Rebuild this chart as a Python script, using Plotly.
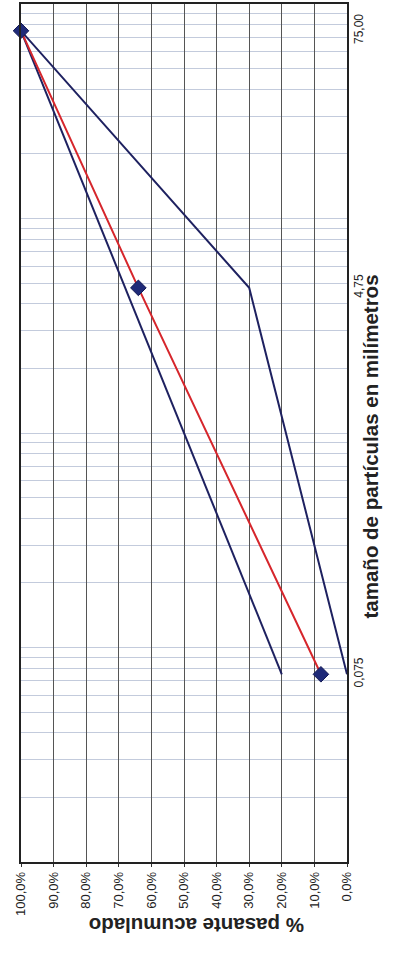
import plotly.graph_objects as go

# Data (particle size in mm, % passing)
sizes_sample = [75.0, 4.75, 0.075]
passing_sample = [100.0, 64.0, 8.0]

sizes_upper = [75.0, 4.75, 0.075]
passing_upper = [100.0, 30.0, 0.0]

sizes_lower = [75.0, 0.075]
passing_lower = [100.0, 20.0]

pct_ticks = [100, 90, 80, 70, 60, 50, 40, 30, 20, 10, 0]
pct_labels = ["100,0%", "90,0%", "80,0%", "70,0%", "60,0%", "50,0%",
              "40,0%", "30,0%", "20,0%", "10,0%", "0,0%"]
size_ticks = [0.075, 4.75, 75.0]
size_labels = ["0,075", "4,75", "75,00"]

grid_vals = [m * 10.0 ** e for e in range(-2, 2) for m in range(1, 10)] + [100.0]

navy = "#1e2160"
fig = go.Figure()
fig.add_trace(go.Scatter(x=passing_upper, y=sizes_upper, mode="lines",
                         line=dict(color=navy, width=2), cliponaxis=False,
                         showlegend=False))
fig.add_trace(go.Scatter(x=passing_lower, y=sizes_lower, mode="lines",
                         line=dict(color=navy, width=2), cliponaxis=False,
                         showlegend=False))
fig.add_trace(go.Scatter(x=passing_sample, y=sizes_sample, mode="lines+markers",
                         line=dict(color="#d6262c", width=2),
                         marker=dict(symbol="diamond", size=12, color="#1f2a78",
                                     line=dict(color="#141a55", width=1)),
                         cliponaxis=False, showlegend=False))

fig.update_layout(
    width=402, height=955,
    margin=dict(l=21, r=55, t=4, b=93),
    paper_bgcolor="white", plot_bgcolor="white",
    font=dict(family="Liberation Sans, Arial, sans-serif", color="#222"),
    xaxis=dict(range=[100, 0], tickmode="array", tickvals=pct_ticks,
               ticktext=pct_labels, tickangle=-90, tickfont=dict(size=13),
               automargin=False,
               showgrid=True, gridcolor="#555", gridwidth=1,
               showline=True, linecolor="#222", linewidth=1.5, mirror=True,
               ticks="outside", ticklen=3, tickcolor="#333", zeroline=False),
    yaxis=dict(type="log", range=[-2, 2], side="right", tickmode="array",
               tickvals=size_ticks, ticktext=size_labels, tickangle=-90,
               tickfont=dict(size=12), showgrid=False, automargin=False,
               showline=True, linecolor="#222", linewidth=1.5, mirror=True,
               ticks="", zeroline=False,
               minor=dict(tickmode="array", tickvals=grid_vals, showgrid=True,
                          gridcolor="#c3cbdc", gridwidth=1, ticks="")),
    annotations=[
        dict(text="<b>% pasante acumulado</b>", textangle=180, xref="paper",
             yref="paper", x=(197 - 21) / 326, y=(862 - 939) / 858,
             showarrow=False, font=dict(size=20.5, color="#222")),
        dict(text="<b>tamaño de partículas en milímetros</b>", textangle=-90,
             xref="paper", yref="paper", x=(383 - 21) / 326, y=(862 - 447) / 858,
             showarrow=False, font=dict(size=20.5, color="#222")),
    ],
)

fig.write_html("out.html", config={"displayModeBar": False},
               post_script="document.body.style.margin='0';")
